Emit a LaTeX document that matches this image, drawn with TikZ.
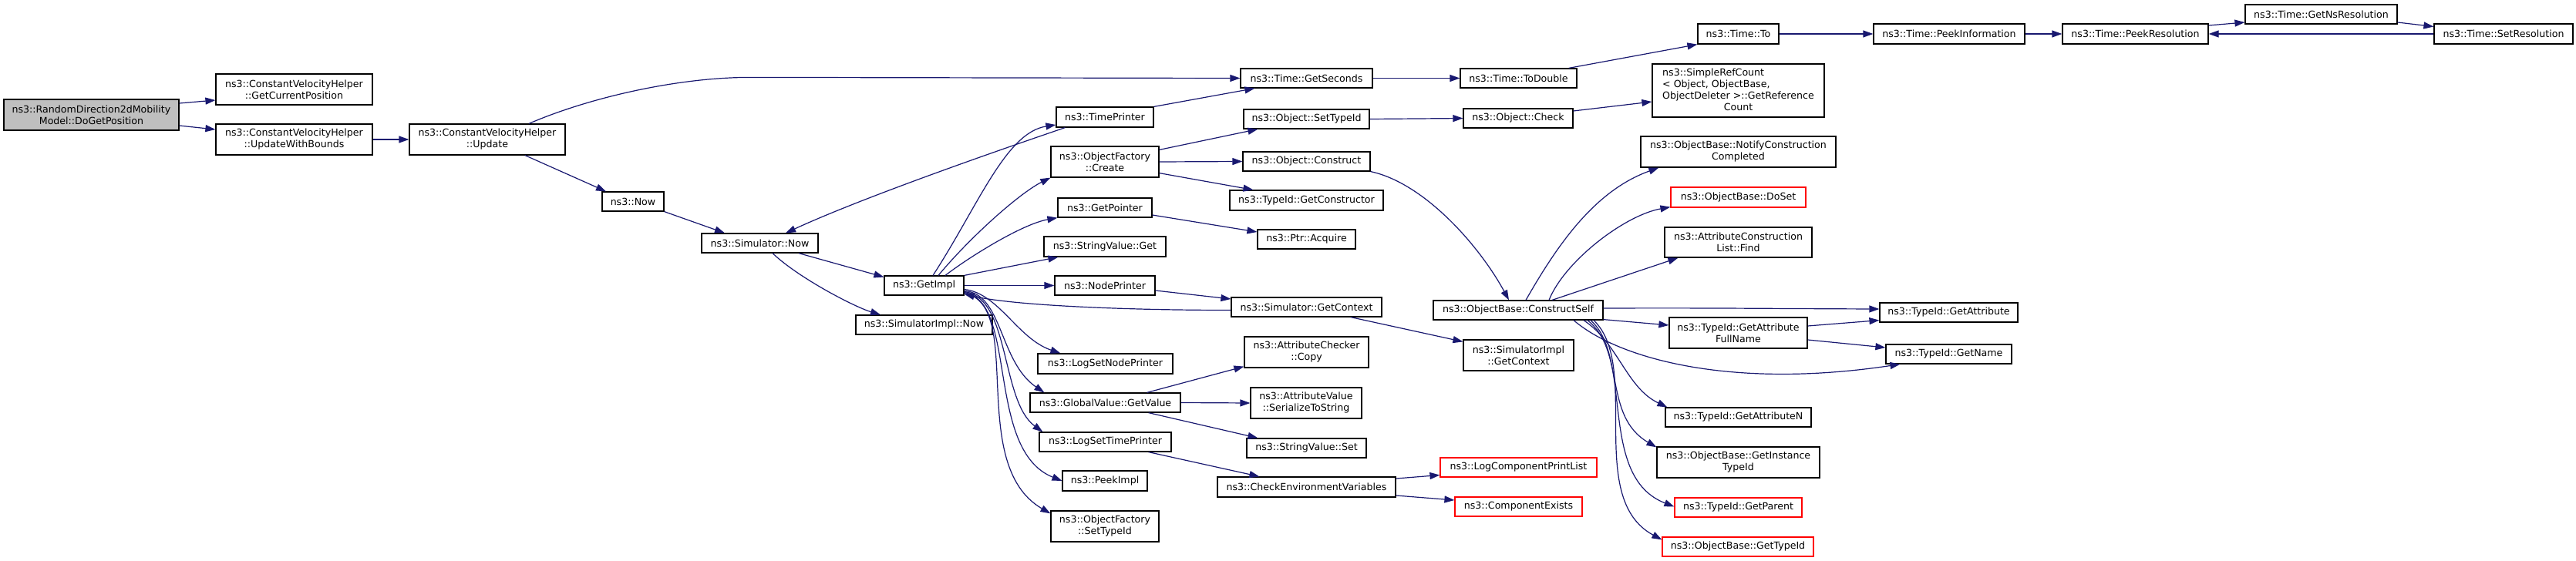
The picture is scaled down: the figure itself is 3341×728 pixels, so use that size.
\documentclass[tikz,border=0pt]{standalone}
\usepackage{fontspec}
\setmainfont{DejaVu Sans}
\usetikzlibrary{arrows.meta,calc}
\definecolor{edgecol}{HTML}{191970}
\definecolor{rootfill}{HTML}{BFBFBF}
\newcommand\mkbox[7][]{%
  \pgfmathsetmacro\bcx{(#3+#5)/2}%
  \pgfmathsetmacro\bcy{(#4+#6)/2}%
  \pgfmathsetmacro\bw{#5-#3}%
  \pgfmathsetmacro\bh{#6-#4}%
  \node[fnbox,minimum width=\bw pt,minimum height=\bh pt,#1] (#2) at (\bcx,\bcy) {#7};}
\begin{document}
\begin{tikzpicture}[x=1pt,y=-1pt,
  fnbox/.style={draw=black, line width=1.2pt, fill=white, inner sep=0pt, align=center,
    font=\fontsize{12.6}{15}\selectfont},
  redbox/.style={draw=red},
  rootbox/.style={fill=rootfill},
  calllink/.style={draw=edgecol, line width=1.2pt, -{Triangle[length=13pt,width=9pt]}}]
\useasboundingbox (0,0) rectangle (3341,728);
% nodes
\mkbox[rootbox]{root}{5}{129}{232}{169}{ns3::RandomDirection2dMobility\\Model::DoGetPosition}
\mkbox{gcp}{280}{96}{483}{136}{ns3::ConstantVelocityHelper\\::GetCurrentPosition}
\mkbox{uwb}{280}{161}{483}{201}{ns3::ConstantVelocityHelper\\::UpdateWithBounds}
\mkbox{upd}{531}{161}{733}{201}{ns3::ConstantVelocityHelper\\::Update}
\mkbox{now}{781}{249}{861}{274}{ns3::Now}
\mkbox{snow}{910}{303}{1061}{328}{ns3::Simulator::Now}
\mkbox{getimpl}{1147}{358}{1250}{383}{ns3::GetImpl}
\mkbox{simpln}{1110}{409}{1287}{434}{ns3::SimulatorImpl::Now}
\mkbox{gs}{1609}{89}{1780}{114}{ns3::Time::GetSeconds}
\mkbox{tp}{1370}{139}{1496}{165}{ns3::TimePrinter}
\mkbox{ofc}{1363}{190}{1503}{230}{ns3::ObjectFactory\\::Create}
\mkbox{gp}{1372}{257}{1494}{282}{ns3::GetPointer}
\mkbox{svg}{1354}{307}{1512}{333}{ns3::StringValue::Get}
\mkbox{np}{1368}{358}{1498}{383}{ns3::NodePrinter}
\mkbox{lsnp}{1346}{459}{1521}{485}{ns3::LogSetNodePrinter}
\mkbox{gvgv}{1336}{510}{1531}{535}{ns3::GlobalValue::GetValue}
\mkbox{lstp}{1348}{561}{1519}{586}{ns3::LogSetTimePrinter}
\mkbox{peekimpl}{1378}{611}{1488}{637}{ns3::PeekImpl}
\mkbox{ofst}{1363}{663}{1503}{703}{ns3::ObjectFactory\\::SetTypeId}
\mkbox{ost}{1613}{142}{1776}{167}{ns3::Object::SetTypeId}
\mkbox{oc}{1612}{197}{1777}{222}{ns3::Object::Construct}
\mkbox{gcons}{1595}{247}{1794}{273}{ns3::TypeId::GetConstructor}
\mkbox{acq}{1631}{298}{1758}{323}{ns3::Ptr::Acquire}
\mkbox{sgc}{1597}{386}{1792}{411}{ns3::Simulator::GetContext}
\mkbox{acc}{1614}{437}{1775}{477}{ns3::AttributeChecker\\::Copy}
\mkbox{avs}{1622}{503}{1766}{543}{ns3::AttributeValue\\::SerializeToString}
\mkbox{svs}{1617}{569}{1772}{594}{ns3::StringValue::Set}
\mkbox{cev}{1579}{619}{1810}{645}{ns3::CheckEnvironmentVariables}
\mkbox{td}{1894}{89}{2045}{114}{ns3::Time::ToDouble}
\mkbox{ochk}{1898}{141}{2040}{166}{ns3::Object::Check}
\mkbox{cs}{1859}{390}{2079}{415}{ns3::ObjectBase::ConstructSelf}
\mkbox{sigc}{1898}{441}{2041}{481}{ns3::SimulatorImpl\\::GetContext}
\mkbox[redbox]{lcpl}{1868}{594}{2071}{619}{ns3::LogComponentPrintList}
\mkbox[redbox]{ce}{1887}{645}{2052}{670}{ns3::ComponentExists}
\mkbox{tto}{2202}{31}{2307}{57}{ns3::Time::To}
\mkbox{src}{2143}{83}{2366}{152}{\begin{tabular}{@{}l@{}}ns3::SimpleRefCount\\< Object, ObjectBase,\\ ObjectDeleter >::GetReference\\\multicolumn{1}{@{}c@{}}{Count}\end{tabular}}
\mkbox{ncc}{2128}{177}{2381}{217}{ns3::ObjectBase::NotifyConstruction\\Completed}
\mkbox[redbox]{doset}{2167}{243}{2342}{269}{ns3::ObjectBase::DoSet}
\mkbox{aclf}{2159}{295}{2350}{334}{ns3::AttributeConstruction\\List::Find}
\mkbox{gafn}{2165}{412}{2344}{452}{ns3::TypeId::GetAttribute\\FullName}
\mkbox{gan}{2160}{529}{2349}{554}{ns3::TypeId::GetAttributeN}
\mkbox{gitid}{2149}{580}{2360}{620}{ns3::ObjectBase::GetInstance\\TypeId}
\mkbox[redbox]{gpar}{2172}{646}{2337}{671}{ns3::TypeId::GetParent}
\mkbox[redbox]{obgt}{2156}{697}{2352}{722}{ns3::ObjectBase::GetTypeId}
\mkbox{pinfo}{2430}{31}{2626}{57}{ns3::Time::PeekInformation}
\mkbox{gattr}{2438}{393}{2617}{418}{ns3::TypeId::GetAttribute}
\mkbox{gname}{2446}{447}{2609}{472}{ns3::TypeId::GetName}
\mkbox{pres}{2675}{31}{2864}{57}{ns3::Time::PeekResolution}
\mkbox{gns}{2912}{6}{3109}{31}{ns3::Time::GetNsResolution}
\mkbox{sres}{3157}{31}{3337}{57}{ns3::Time::SetResolution}
% edges
\draw[calllink] ($(root.east)+(0,-15)$) -- ($(gcp.west)+(0,14)$);
\draw[calllink] ($(root.east)+(0,14)$) -- ($(uwb.west)+(0,-13)$);
\draw[calllink] (uwb.east) -- (upd.west);
\draw[calllink] ($(upd.north)+(54,0)$) .. controls ($(upd.north)+(135,-35)$) and ($(upd.north)+(250,-60)$) .. ($(upd.north)+(340,-60)$) -- (gs.west);
\draw[calllink] ($(upd.south)+(49,0)$) -- ($(now.north)+(-35,0)$);
\draw[calllink] (now.south east) -- ($(snow.north)+(-45.5,0)$);
\draw[calllink] ($(snow.south)+(50.5,0)$) -- ($(getimpl.west)+(0,-11)$);
\draw[calllink] ($(snow.south)+(16.5,0)$) .. controls ($(snow.south)+(50,32)$) and ($(simpln.north)+(-90,-10)$) .. ($(simpln.north)+(-56.5,0)$);
\draw[calllink] ($(tp.south west)+(12,0)$) .. controls ($(tp.south west)+(-120,45)$) and ($(snow.north)+(120,-40)$) .. ($(snow.north)+(33.5,0)$);
\draw[calllink] (tp.north east) -- ($(gs.south west)+(19,0)$);
\draw[calllink] ($(getimpl.north)+(11.5,0)$) .. controls ($(getimpl.north)+(70,-90)$) and ($(tp.west)+(-65,20)$) .. ($(tp.west)+(0,10)$);
\draw[calllink] ($(getimpl.north)+(18.5,0)$) .. controls ($(getimpl.north)+(60,-50)$) and ($(ofc.south west)+(-40,20)$) .. (ofc.south west);
\draw[calllink] ($(getimpl.north)+(27.5,0)$) .. controls ($(getimpl.north)+(60,-25)$) and ($(gp.south west)+(-45,8)$) .. (gp.south west);
\draw[calllink] (getimpl.north east) -- ($(svg.south west)+(19,0)$);
\draw[calllink] (getimpl.east) -- (np.west);
\draw[calllink] ($(sgc.west)+(0,4)$) .. controls ($(sgc.west)+(-150,4)$) and ($(getimpl.south east)+(60,12)$) .. ($(getimpl.south east)+(0,-2)$);
\draw[calllink] ($(np.east)+(0,6.5)$) -- ($(sgc.west)+(0,-10.5)$);
\draw[calllink] ($(getimpl.east)+(0,5)$) .. controls ($(getimpl.east)+(45,10)$) and ($(lsnp.north west)+(-26,-19)$) .. ($(lsnp.north west)+(30,0)$);
\draw[calllink] ($(getimpl.east)+(0,7)$) .. controls ($(getimpl.east)+(50,10)$) and ($(gvgv.north west)+(-40,-40)$) .. ($(gvgv.north west)+(19,0)$);
\draw[calllink] ($(getimpl.east)+(0,8)$) .. controls ($(getimpl.east)+(60,15)$) and ($(lstp.north west)+(-50,-40)$) .. ($(lstp.north west)+(5,0)$);
\draw[calllink] ($(getimpl.east)+(0,9)$) .. controls ($(getimpl.east)+(70,20)$) and ($(peekimpl.west)+(-100,-40)$) .. (peekimpl.west);
\draw[calllink] ($(getimpl.east)+(0,10)$) .. controls ($(getimpl.east)+(80,25)$) and ($(ofst.north west)+(-110,-60)$) .. ($(ofst.north west)+(0,4)$);
\draw[calllink] ($(ofc.north east)+(0,5)$) -- ($(ost.south west)+(19,0)$);
\draw[calllink] (ofc.east) -- (oc.west);
\draw[calllink] ($(ofc.south east)+(0,-6)$) -- ($(gcons.north west)+(31,0)$);
\draw[calllink] ($(gp.east)+(0,9.5)$) -- ($(acq.west)+(0,-9.5)$);
\draw[calllink] ($(gvgv.north east)+(-44,0)$) -- ($(acc.south west)+(0,-2)$);
\draw[calllink] (gvgv.east) -- (avs.west);
\draw[calllink] ($(gvgv.south east)+(-42,0)$) -- ($(svs.north west)+(15,0)$);
\draw[calllink] ($(lstp.south east)+(-30,0)$) -- ($(cev.north west)+(55,0)$);
\draw[calllink] ($(cev.east)+(0,-11)$) -- ($(lcpl.west)+(0,10)$);
\draw[calllink] ($(cev.east)+(0,11)$) -- ($(ce.west)+(0,-8.5)$);
\draw[calllink] ($(sgc.south)+(57.5,0)$) -- ($(sigc.north west)+(0,3)$);
\draw[calllink] (gs.east) -- (td.west);
\draw[calllink] ($(td.north east)+(-11,0)$) -- (tto.south west);
\draw[calllink] (tto.east) -- (pinfo.west);
\draw[calllink] (pinfo.east) -- (pres.west);
\draw[calllink] ($(pres.east)+(0,-11)$) -- ($(gns.west)+(0,10.5)$);
\draw[calllink] ($(gns.east)+(0,10.5)$) -- ($(sres.west)+(0,-9.5)$);
\draw[calllink] (sres.west) -- (pres.east);
\draw[calllink] (ost.east) -- (ochk.west);
\draw[calllink] ($(ochk.east)+(0,-9.5)$) -- ($(src.west)+(0,14.5)$);
\draw[calllink] (oc.south east) .. controls ($(oc.south east)+(70,15)$) and ($(cs.north)+(-50,-70)$) .. ($(cs.north)+(-12,0)$);
\draw[calllink] ($(cs.north)+(10,0)$) .. controls ($(cs.north)+(50,-70)$) and ($(ncc.south west)+(-60,30)$) .. ($(ncc.south west)+(24,0)$);
\draw[calllink] ($(cs.north)+(40,0)$) .. controls ($(cs.north)+(60,-50)$) and ($(doset.south west)+(-60,10)$) .. ($(doset.south west)+(0,-1)$);
\draw[calllink] ($(cs.north)+(44,0)$) -- ($(aclf.south west)+(18,0)$);
\draw[calllink] ($(cs.east)+(0,-2.5)$) .. controls ($(cs.east)+(150,-3)$) and ($(gattr.west)+(-150,-5)$) .. ($(gattr.west)+(0,-4.5)$);
\draw[calllink] ($(cs.south east)+(0,-1)$) -- ($(gafn.west)+(0,-10)$);
\draw[calllink] ($(cs.south)+(72,0)$) .. controls ($(cs.south)+(130,50)$) and ($(gname.south west)+(-200,33)$) .. ($(gname.south west)+(19,0)$);
\draw[calllink] ($(cs.south)+(85,0)$) .. controls ($(cs.south)+(130,30)$) and ($(gan.north west)+(-50,-25)$) .. ($(gan.north west)+(3,0)$);
\draw[calllink] ($(cs.south)+(90,0)$) .. controls ($(cs.south)+(140,40)$) and ($(gitid.north west)+(-70,-40)$) .. ($(gitid.north west)+(0,1)$);
\draw[calllink] ($(cs.south)+(94,0)$) .. controls ($(cs.south)+(150,50)$) and ($(gpar.west)+(-100,-40)$) .. ($(gpar.west)+(0,-1)$);
\draw[calllink] ($(cs.south)+(98,0)$) .. controls ($(cs.south)+(160,60)$) and ($(obgt.north west)+(-100,-50)$) .. ($(obgt.north west)+(0,4)$);
\draw[calllink] ($(gafn.east)+(0,-9)$) -- ($(gattr.south west)+(0,-3)$);
\draw[calllink] ($(gafn.east)+(0,9)$) -- ($(gname.west)+(0,-8.5)$);
\end{tikzpicture}
\end{document}
